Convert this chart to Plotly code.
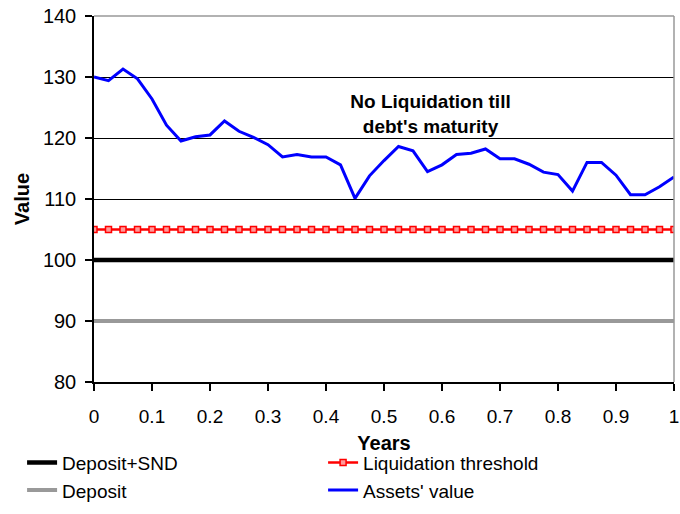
import plotly.graph_objects as go

# time grid (years) and series values
years = [0, 0.025, 0.05, 0.075, 0.1, 0.125, 0.15, 0.175, 0.2, 0.225,
         0.25, 0.275, 0.3, 0.325, 0.35, 0.375, 0.4, 0.425, 0.45, 0.475,
         0.5, 0.525, 0.55, 0.575, 0.6, 0.625, 0.65, 0.675, 0.7, 0.725,
         0.75, 0.775, 0.8, 0.825, 0.85, 0.875, 0.9, 0.925, 0.95, 0.975, 1.0]

assets_value = [130.0, 129.4, 131.3, 129.7, 126.4, 122.1, 119.5, 120.2, 120.5, 122.8,
                121.1, 120.1, 118.9, 116.9, 117.3, 116.9, 116.9, 115.6, 110.1, 113.8,
                116.3, 118.6, 117.9, 114.5, 115.6, 117.3, 117.5, 118.2, 116.6, 116.6,
                115.7, 114.4, 114.0, 111.3, 116.0, 116.0, 113.9, 110.7, 110.7, 112.0, 113.6]

deposit_snd = [100] * len(years)
liquidation_threshold = [105] * len(years)
deposit = [90] * len(years)

x_ticks = [0, 0.1, 0.2, 0.3, 0.4, 0.5, 0.6, 0.7, 0.8, 0.9, 1]
x_tick_labels = ["0", "0.1", "0.2", "0.3", "0.4", "0.5", "0.6", "0.7", "0.8", "0.9", "1"]
y_ticks = [80, 90, 100, 110, 120, 130, 140]

FONT = "Liberation Sans, Arial, sans-serif"

fig = go.Figure()

fig.add_trace(go.Scatter(
    x=years, y=deposit, name="Deposit", mode="lines",
    line=dict(color="#999999", width=4), legendrank=3
))
fig.add_trace(go.Scatter(
    x=years, y=deposit_snd, name="Deposit+SND", mode="lines",
    line=dict(color="black", width=4.5), legendrank=1
))
fig.add_trace(go.Scatter(
    x=years, y=liquidation_threshold, name="Liquidation threshold", mode="lines+markers",
    line=dict(color="#ff0000", width=2.5),
    marker=dict(symbol="square", size=6, color="#ff9999", line=dict(color="#ff0000", width=1.5)),
    legendrank=2
))
fig.add_trace(go.Scatter(
    x=years, y=assets_value, name="Assets' value", mode="lines",
    line=dict(color="#0000ff", width=3), legendrank=4
))

fig.add_annotation(
    text="<b>No Liquidation till<br>debt's maturity</b>",
    x=0.581, y=123.9, xref="x", yref="y",
    xanchor="center", yanchor="middle",
    width=231, height=46, borderpad=0,
    bgcolor="white", showarrow=False,
    font=dict(family=FONT, size=19, color="black")
)

# grey frame on top and right
fig.add_shape(type="line", xref="paper", yref="paper", x0=0, y0=1, x1=1, y1=1,
              line=dict(color="#999999", width=1.5), layer="above")
fig.add_shape(type="line", xref="paper", yref="paper", x0=1, y0=0, x1=1, y1=1,
              line=dict(color="#999999", width=1.5), layer="above")

fig.update_layout(
    width=680, height=514,
    margin=dict(l=94, r=6, t=16, b=131),
    paper_bgcolor="white", plot_bgcolor="white",
    font=dict(family=FONT, size=19, color="black"),
    legend=dict(
        orientation="h", x=-0.124, xanchor="left", y=-0.165, yanchor="top",
        entrywidth=256, entrywidthmode="pixels",
        font=dict(family=FONT, size=19), itemwidth=30,
        tracegroupgap=0, bgcolor="rgba(0,0,0,0)"
    ),
    xaxis=dict(
        range=[0, 1], tickvals=x_ticks, ticktext=x_tick_labels,
        showgrid=False, zeroline=False,
        showline=True, linecolor="black", linewidth=1.5,
        ticks="outside", ticklen=7, tickcolor="black", tickwidth=1.5,
        ticklabelstandoff=9,
        tickfont=dict(family=FONT, size=19),
        title=dict(text="<b>Years</b>", font=dict(family=FONT, size=20), standoff=10),
        automargin=False
    ),
    yaxis=dict(
        range=[80, 140], tickvals=y_ticks,
        showgrid=True, gridcolor="black", gridwidth=1, zeroline=False,
        showline=True, linecolor="black", linewidth=1.5,
        ticks="outside", ticklen=7, tickcolor="black", tickwidth=1.5,
        ticklabelstandoff=5,
        tickfont=dict(family=FONT, size=20),
        title=dict(text="<b>Value</b>", font=dict(family=FONT, size=20), standoff=8),
        automargin=False
    ),
)

fig.write_html("out.html", config={"displayModeBar": False},
               post_script="document.body.style.margin='0px';")
